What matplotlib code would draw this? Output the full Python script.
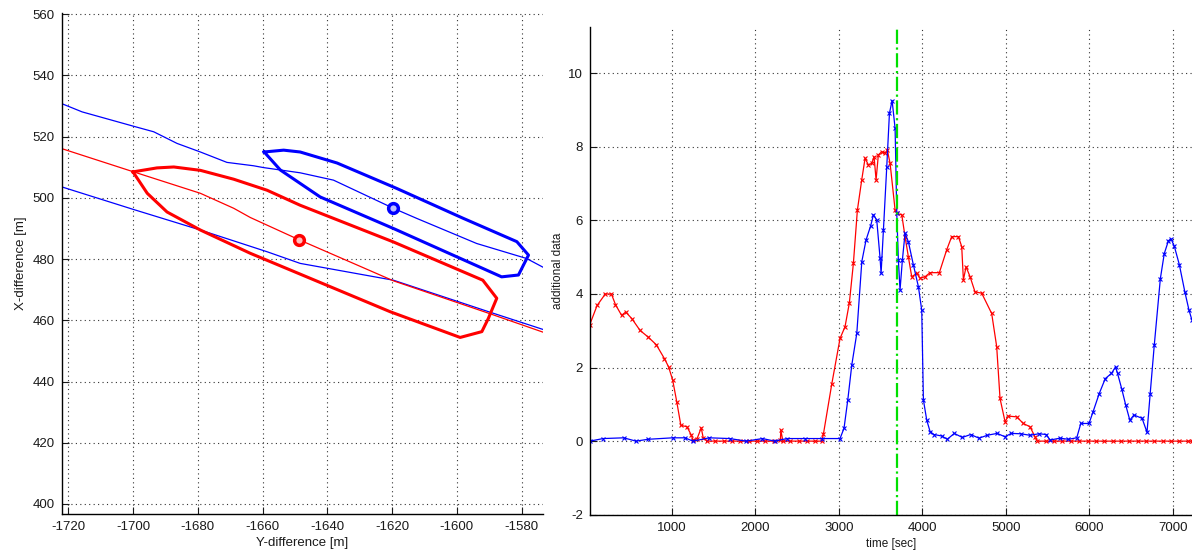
import matplotlib
matplotlib.use('Agg')
import matplotlib.pyplot as plt

plt.rcParams['font.family'] = ['Liberation Sans', 'DejaVu Sans']
plt.rcParams['axes.unicode_minus'] = False

'''{Left panel data: X/Y difference tracks}'''
blue_upper_y = [-1722, -1715.7, -1699.8, -1693.6, -1686.4, -1679.2, -1671, -1662.8, -1659.7, -1648.4,
                -1638.1, -1619.6, -1612.4, -1593.9, -1578.5, -1572.8]
blue_upper_x = [530.8, 528.1, 523.4, 521.6, 517.8, 515, 511.6, 510.5, 509.9, 508.2,
                505.8, 496.6, 493.3, 485.1, 480.2, 477]

blue_lower_y = [-1722, -1699.8, -1679.2, -1658.6, -1648.4, -1619.6, -1590.2, -1572.8]
blue_lower_x = [503.6, 496.2, 489.5, 482.4, 478.6, 473.1, 462.8, 456.8]

red_mid_y = [-1722, -1699.8, -1679.2, -1668.9, -1663.8, -1648.9, -1619.6, -1590.2, -1572.8]
red_mid_x = [516.1, 508.5, 501.5, 496.6, 493.6, 486.4, 472.9, 462.3, 455.9]

blue_poly_y = [-1659.5, -1653.5, -1648.4, -1637, -1618.6, -1598, -1581.5, -1577.9, -1581, -1586.2,
               -1619.6, -1642.2, -1654.5, -1659.5]
blue_poly_x = [515, 515.6, 515, 511.4, 503.1, 493.3, 485.7, 481.3, 474.8, 474.2,
               490, 500.3, 509.1, 515]

red_poly_y = [-1700, -1692.6, -1687.4, -1679.2, -1668.9, -1658.6, -1648.4, -1619.6, -1592, -1587.7,
              -1590.3, -1592.3, -1599, -1620.6, -1663.8, -1679.2, -1689.5, -1695.6, -1700]
red_poly_x = [508.5, 509.8, 510.1, 509, 506.1, 502.5, 497.6, 485.6, 473.1, 467.2,
              460.6, 456.3, 454.4, 462.8, 481.9, 489.5, 495.4, 501.5, 508.5]

blue_pos = (-1619.6, 496.6)
red_pos = (-1648.9, 486.4)

'''{Right panel data: additional data over time}'''
red_t = [17, 105, 203, 276, 325, 398, 447, 521, 619, 716, 814, 912, 961, 1010, 1059, 1108, 1181, 1230,
         1254, 1303, 1352, 1376, 1425, 1520, 1620, 1720, 1820, 1920, 2020, 2120, 2220, 2300, 2306,
         2330, 2420, 2520, 2620, 2720, 2796, 2816, 2916, 3015, 3075, 3127, 3175, 3223, 3275, 3315,
         3355, 3395, 3423, 3447, 3474, 3515, 3555, 3582, 3615, 3675, 3695, 3755, 3794, 3834, 3874,
         3934, 3974, 4034, 4094, 4205, 4293, 4353, 4433, 4473, 4493, 4525, 4573, 4632, 4713, 4832,
         4892, 4932, 4992, 5032, 5132, 5211, 5291, 5351, 5379, 5480, 5580, 5680, 5780, 5880, 5980,
         6080, 6180, 6280, 6380, 6480, 6580, 6680, 6780, 6880, 6980, 7080, 7180, 7230]
red_v = [3.17, 3.69, 4.0, 4.0, 3.71, 3.42, 3.51, 3.33, 3.01, 2.83, 2.62, 2.24, 2.02, 1.66, 1.07, 0.43, 0.39, 0.18,
         0.03, 0.07, 0.36, 0.09, 0, 0, 0, 0, 0, 0, 0, 0, 0, 0.02, 0.3,
         0, 0, 0, 0, 0, 0, 0.19, 1.55, 2.79, 3.11, 3.76, 4.83, 6.28, 7.1, 7.69,
         7.51, 7.55, 7.73, 7.1, 7.78, 7.87, 7.83, 7.91, 7.55, 6.28, 6.19, 6.15, 5.56, 5.01, 4.47,
         4.56, 4.43, 4.47, 4.58, 4.58, 5.2, 5.56, 5.56, 5.29, 4.38, 4.74, 4.47, 4.06, 4.02, 3.47,
         2.57, 1.16, 0.53, 0.68, 0.66, 0.48, 0.39, 0.12, 0, 0, 0, 0, 0, 0, 0,
         0, 0, 0, 0, 0, 0, 0, 0, 0, 0, 0, 0, 0]

blue_t = [17, 178, 423, 570, 716, 1010, 1157, 1254, 1450, 1694, 1890, 2086, 2232, 2379, 2600, 2800,
          3015, 3063, 3108, 3156, 3216, 3276, 3327, 3383, 3415, 3455, 3495, 3507, 3535, 3575, 3607,
          3639, 3675, 3695, 3714, 3734, 3762, 3794, 3834, 3894, 3954, 3994, 4014, 4054, 4094, 4139,
          4233, 4300, 4384, 4480, 4580, 4680, 4780, 4897, 4990, 5068, 5180, 5288, 5400, 5484, 5533,
          5650, 5750, 5851, 5900, 5998, 6047, 6120, 6193, 6267, 6316, 6340, 6389, 6438, 6487, 6536,
          6634, 6693, 6731, 6780, 6853, 6900, 6950, 6980, 7020, 7080, 7147, 7196, 7230]
blue_v = [0, 0.07, 0.09, 0, 0.05, 0.09, 0.09, 0, 0.09, 0.07, 0, 0.07, 0, 0.07, 0.07, 0.07,
          0.07, 0.35, 1.12, 2.07, 2.93, 4.88, 5.47, 5.86, 6.15, 6.01, 4.97, 4.56, 5.74, 7.46, 8.91,
          9.26, 8.5, 6.19, 4.92, 4.11, 4.92, 5.65, 5.42, 4.79, 4.2, 3.56, 1.12, 0.57, 0.26, 0.18,
          0.14, 0.05, 0.21, 0.1, 0.18, 0.08, 0.16, 0.21, 0.12, 0.21, 0.2, 0.16, 0.2, 0.18, 0.03,
          0.08, 0.05, 0.09, 0.48, 0.48, 0.8, 1.29, 1.7, 1.84, 2.02, 1.84, 1.43, 0.98, 0.57, 0.71,
          0.62, 0.24, 1.29, 2.61, 4.42, 5.1, 5.45, 5.5, 5.3, 4.8, 4.05, 3.56, 3.3]

event_time = 3700

'''{Figure}'''
fig = plt.figure(figsize=(11.92, 5.6), dpi=100)

grid_style = dict(color='0.2', linestyle=(0, (1, 3)), linewidth=0.8)


def style_axes(ax, size):
    for side in ['top', 'right']:
        ax.spines[side].set_visible(False)
    for side in ['left', 'bottom']:
        ax.spines[side].set_linewidth(1.0)
    ax.tick_params(direction='in', length=5, width=0.8, labelsize=size, colors='0.1', pad=5)
    ax.grid(True, **grid_style)
    ax.set_axisbelow(True)


ax1 = fig.add_axes([0.0518, 0.0821, 0.4038, 0.8946])
ax1.plot(blue_upper_y, blue_upper_x, color='b', lw=0.9)
ax1.plot(blue_lower_y, blue_lower_x, color='b', lw=0.9)
ax1.plot(red_mid_y, red_mid_x, color='r', lw=0.9)
ax1.plot(blue_poly_y, blue_poly_x, color='b', lw=2.2)
ax1.plot(red_poly_y, red_poly_x, color='r', lw=2.2)
ax1.plot(blue_pos[0], blue_pos[1], 'o', color='b', ms=7, mfc='#c0c0ff', mew=2.5)
ax1.plot(red_pos[0], red_pos[1], 'o', color='r', ms=7, mfc='#ffc0c0', mew=2.5)
ax1.set_xlim(-1722, -1573.4)
ax1.set_ylim(396.7, 560.4)
ax1.set_xticks(range(-1720, -1579, 20))
ax1.set_yticks(range(400, 561, 20))
style_axes(ax1, 9.5)
ax1.set_xlabel('Y-difference [m]', fontsize=9.5, color='0.1', labelpad=3)
ax1.set_ylabel('X-difference [m]', fontsize=9.5, color='0.1', labelpad=4)

ax2 = fig.add_axes([0.495, 0.0809, 0.505, 0.871])
ax2.plot(red_t, red_v, color='r', lw=0.9, marker='x', ms=3.5, mew=0.8)
ax2.plot(blue_t, blue_v, color='b', lw=0.9, marker='x', ms=3.5, mew=0.8)
ax2.axvline(event_time, color='#00e000', lw=1.6, linestyle='-.')
ax2.set_xlim(20, 7232)
ax2.set_ylim(-2, 11.26)
ax2.set_xticks(range(1000, 7001, 1000))
ax2.set_yticks(range(-2, 11, 2))
style_axes(ax2, 9.5)
ax2.set_xlabel('time [sec]', fontsize=8.5, color='0.1', labelpad=3)
ax2.set_ylabel('additional data', fontsize=8.5, color='0.1', labelpad=3)

fig.savefig('out.png', dpi=100)
